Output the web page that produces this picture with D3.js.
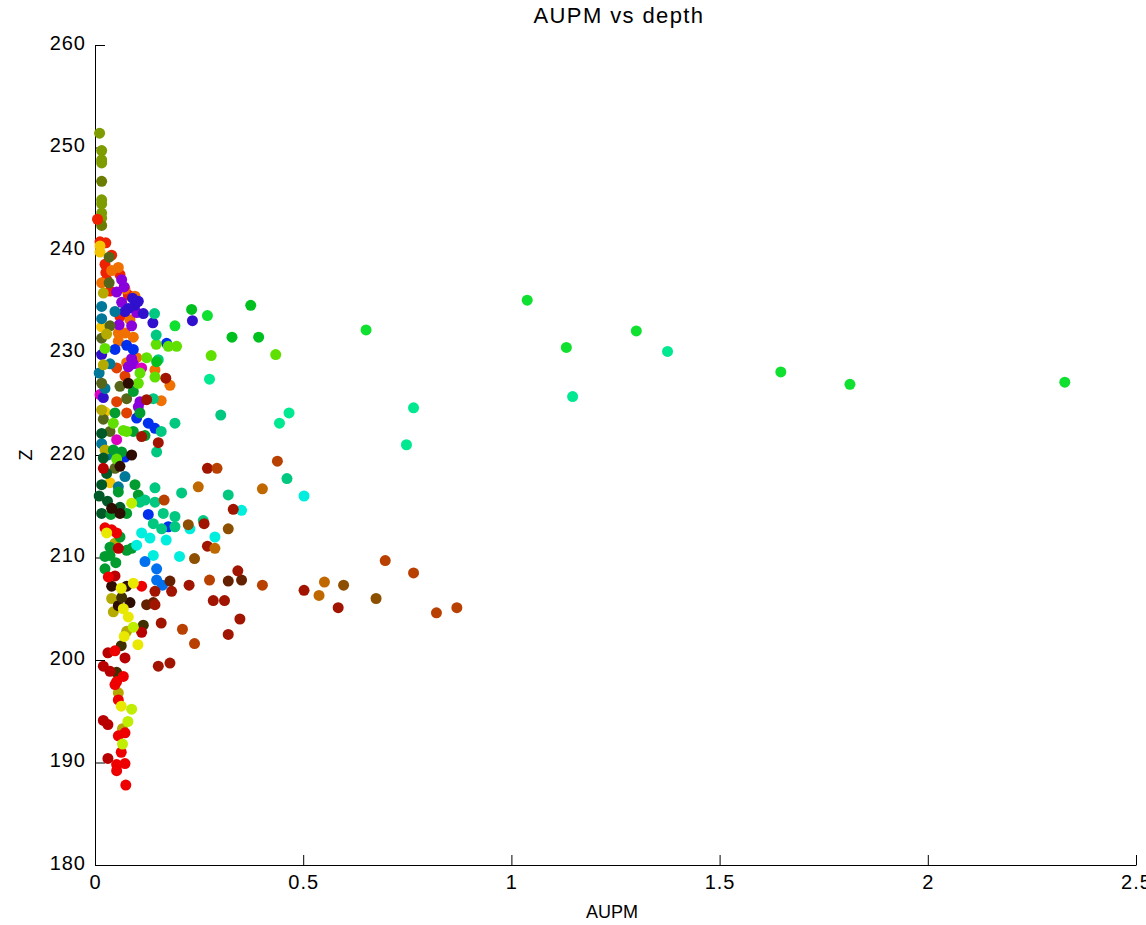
<!DOCTYPE html>
<html>
<head>
<meta charset="utf-8">
<script src="https://cdn.jsdelivr.net/npm/d3@7"></script>
<style>
  body { margin: 0; background: #fff; }
  svg { font-family: "Liberation Sans", Arial, sans-serif; }
</style>
</head>
<body>
<script>
// AUPM readings against depth Z, one array per colour group
var olive = [[0.011,251.4],[0.016,249.7],[0.016,248.8],[0.016,248.5],[0.016,244.9],[0.016,244.5],[0.016,243.6],[0.016,243.1]];
var darkOlive = [[0.016,246.7],[0.016,242.4]];
var scarlet = [[0.006,243.0],[0.012,240.8],[0.026,240.7],[0.024,238.6],[0.026,237.8],[0.060,237.6],[0.028,237.1],[0.080,235.6],[0.060,233.5],[0.040,239.5],[0.036,236.0]];
var red = [[0.024,212.9],[0.040,212.7],[0.052,212.4],[0.032,208.1],[0.112,207.2],[0.048,200.9],[0.068,198.4],[0.052,197.9],[0.048,197.6],[0.056,196.1],[0.072,192.9],[0.056,192.6],[0.063,191.0],[0.052,189.8],[0.072,189.9],[0.052,189.2],[0.074,187.8]];
var darkRed = [[0.020,218.7],[0.056,210.9],[0.048,208.2],[0.112,202.7],[0.031,200.7],[0.072,200.2],[0.020,199.4],[0.036,198.9],[0.020,194.1],[0.031,193.7],[0.031,190.4]];
var gold = [[0.012,240.4],[0.012,239.8],[0.016,232.5],[0.024,224.2],[0.036,217.3]];
var lemon = [[0.028,212.4],[0.063,207.0],[0.092,207.5],[0.068,205.0],[0.080,204.2],[0.070,202.3],[0.103,201.5],[0.063,195.5]];
var yellowOlive = [[0.020,235.8],[0.028,231.8],[0.020,228.8],[0.016,224.4],[0.024,220.5],[0.048,211.4],[0.040,206.0],[0.044,204.7],[0.076,202.8],[0.056,196.8],[0.066,193.3]];
var limeYellow = [[0.092,203.2],[0.088,195.2],[0.079,194.0],[0.066,191.8],[0.088,215.3]];
var orange = [[0.056,238.3],[0.016,236.8],[0.096,235.5],[0.084,233.2],[0.056,231.9],[0.072,231.9],[0.092,231.5],[0.056,231.1],[0.076,229.0],[0.144,228.3],[0.159,225.3],[0.180,226.8],[0.040,238.0],[0.072,236.2],[0.100,229.5]];
var orangeRed = [[0.052,228.5],[0.072,227.7],[0.052,225.2],[0.076,224.1]];
var purple = [[0.064,237.1],[0.052,235.9],[0.064,234.9],[0.058,232.7],[0.088,232.6],[0.080,228.6],[0.092,228.9],[0.108,225.2],[0.104,224.7],[0.088,229.4],[0.100,233.9],[0.070,236.4]];
var magenta = [[0.112,228.5],[0.012,225.9],[0.052,221.5]];
var indigo = [[0.096,234.6],[0.116,233.8],[0.139,232.9],[0.234,233.1],[0.080,234.3],[0.072,234.0],[0.020,225.6],[0.016,229.8],[0.104,235.0],[0.090,235.3]];
var blue = [[0.048,230.3],[0.076,230.7],[0.092,230.3],[0.172,230.9],[0.100,223.6],[0.128,223.1],[0.144,222.6],[0.072,219.8],[0.128,214.2],[0.176,213.0]];
var azure = [[0.120,209.6],[0.148,208.9],[0.148,207.8],[0.162,207.3]];
var teal = [[0.016,234.5],[0.048,234.0],[0.016,233.3],[0.036,228.9],[0.024,226.5],[0.016,221.1],[0.056,216.9],[0.072,217.9],[0.030,220.0],[0.010,228.0]];
var oliveGreen = [[0.034,239.3],[0.034,236.8],[0.036,232.6],[0.016,231.4],[0.016,227.0],[0.060,226.7],[0.076,225.5],[0.036,222.3],[0.020,223.5],[0.048,218.7]];
var darkGreen = [[0.020,219.7],[0.028,218.2],[0.016,217.1],[0.016,214.3],[0.060,214.9],[0.016,222.1],[0.030,215.5],[0.010,216.0]];
var green = [[0.048,224.1],[0.044,220.5],[0.064,220.3],[0.108,224.1],[0.092,226.2],[0.096,217.1],[0.056,216.4],[0.104,216.1],[0.038,214.2],[0.076,214.3],[0.036,211.0],[0.076,210.7],[0.088,210.9],[0.024,210.1],[0.036,210.2],[0.024,208.9],[0.120,221.9],[0.092,222.3],[0.060,212.0],[0.050,209.5]];
var lime = [[0.147,230.8],[0.176,230.6],[0.196,230.6],[0.124,229.5],[0.108,228.0],[0.104,227.0],[0.144,227.6],[0.024,230.4],[0.044,223.1],[0.068,222.4],[0.076,222.3],[0.052,219.6],[0.279,229.7],[0.434,229.8]];
var jade = [[0.143,233.8],[0.147,231.7],[0.152,229.3],[0.140,225.5],[0.159,222.3],[0.192,223.1],[0.148,220.3],[0.144,216.8],[0.120,215.6],[0.144,215.4],[0.108,215.4],[0.164,214.3],[0.192,214.0],[0.140,213.3],[0.160,212.8],[0.192,213.0],[0.208,216.3],[0.320,216.1],[0.461,217.7],[0.302,223.9],[0.260,213.6]];
var mint = [[0.466,224.1],[0.443,223.1],[0.275,227.4],[0.765,224.6],[0.748,221.0],[1.147,225.7],[1.375,230.1]];
var cyan = [[0.352,214.6],[0.288,212.0],[0.502,216.0],[0.112,212.4],[0.132,211.9],[0.100,211.2],[0.171,211.7],[0.140,210.2],[0.203,210.1],[0.228,212.8]];
var brightGreen = [[0.651,232.2],[1.038,235.1],[1.300,232.1],[1.132,230.5],[1.647,228.1],[1.813,226.9],[2.329,227.1],[0.270,233.6],[0.192,232.6]];
var forestGreen = [[0.374,234.6],[0.232,234.2],[0.329,231.5],[0.393,231.5],[0.148,229.1]];
var rust = [[0.438,219.4],[0.293,218.7],[0.697,209.7],[0.765,208.5],[0.275,207.8],[0.402,207.3],[0.820,204.6],[0.869,205.1],[0.166,215.6],[0.239,201.6],[0.210,203.0]];
var ochre = [[0.402,216.7],[0.248,216.9],[0.288,210.9],[0.551,207.6],[0.538,206.3]];
var umber = [[0.320,212.8],[0.224,213.2],[0.239,209.9],[0.597,207.3],[0.675,206.0]];
var maroon = [[0.270,218.7],[0.332,214.7],[0.262,213.3],[0.270,211.1],[0.343,208.7],[0.284,205.8],[0.311,205.8],[0.348,204.0],[0.320,202.5],[0.584,205.1],[0.502,206.8],[0.170,227.5],[0.124,225.4],[0.112,221.8],[0.152,221.2],[0.226,207.3],[0.184,206.7],[0.144,206.7],[0.144,205.4],[0.159,203.6],[0.152,199.4],[0.180,199.7]];
var darkBrown = [[0.320,207.7],[0.352,207.8],[0.180,207.7],[0.124,205.4],[0.140,205.6]];
var nearBlack = [[0.060,214.3],[0.040,214.8],[0.088,220.0],[0.060,218.9],[0.040,207.2],[0.076,207.2],[0.084,205.6],[0.056,205.3],[0.080,227.0]];
var darkUmber = [[0.116,203.4],[0.064,206.1],[0.063,201.4],[0.052,198.8]];

var xTicks = [0, 0.5, 1, 1.5, 2, 2.5];
var yTicks = [180, 190, 200, 210, 220, 230, 240, 250, 260];

// drawing order + colour of each group
var groups = [
  {pts: olive, color: "#7e9c00"}, {pts: darkOlive, color: "#6c7c00"},
  {pts: scarlet, color: "#ee2200"}, {pts: gold, color: "#f5c400"},
  {pts: orange, color: "#f07000"}, {pts: orangeRed, color: "#e04000"},
  {pts: purple, color: "#8a00dd"}, {pts: magenta, color: "#dd00c0"},
  {pts: indigo, color: "#3010cc"}, {pts: blue, color: "#0030ee"},
  {pts: teal, color: "#00789a"}, {pts: oliveGreen, color: "#55661a"},
  {pts: yellowOlive, color: "#b5aa00"}, {pts: darkGreen, color: "#005a28"},
  {pts: green, color: "#009c30"}, {pts: lime, color: "#60e000"},
  {pts: jade, color: "#00c880"}, {pts: mint, color: "#00e890"},
  {pts: cyan, color: "#00eedd"}, {pts: azure, color: "#0070ee"},
  {pts: brightGreen, color: "#10e030"}, {pts: forestGreen, color: "#00c020"},
  {pts: nearBlack, color: "#2e0c00"}, {pts: darkUmber, color: "#403000"},
  {pts: darkBrown, color: "#652000"}, {pts: maroon, color: "#a01400"},
  {pts: rust, color: "#b84000"}, {pts: ochre, color: "#c06800"},
  {pts: umber, color: "#8c5000"}, {pts: darkRed, color: "#b80000"},
  {pts: red, color: "#ee0000"}, {pts: lemon, color: "#e8e800"},
  {pts: limeYellow, color: "#c0ee00"}
];

var svgWidth = 1146, svgHeight = 925;

var svg = d3.select("body").append("svg")
  .attr("width", svgWidth)
  .attr("height", svgHeight);

var x = d3.scaleLinear().domain([0, 2.5]).range([95, 1136]);
var y = d3.scaleLinear().domain([180, 260]).range([865, 45]);

// axes, MATLAB style: ticks pointing inwards, no box
var xAxis = svg.append("g")
  .attr("transform", "translate(0,865)")
  .call(d3.axisBottom(x).tickValues(xTicks).tickFormat(d3.format("")).tickSizeInner(-10).tickSizeOuter(0).tickPadding(10));

var yAxis = svg.append("g")
  .attr("transform", "translate(95,0)")
  .call(d3.axisLeft(y).tickValues(yTicks).tickSizeInner(-10).tickSizeOuter(0).tickPadding(9));

[xAxis, yAxis].forEach(function(g) {
  g.selectAll("path, line").attr("stroke", "#000").attr("stroke-width", 1);
  g.selectAll("text")
    .attr("fill", "#000")
    .style("font-family", "'Liberation Sans', Arial, sans-serif")
    .style("font-size", "20px")
    .style("letter-spacing", "1px");
});
yAxis.selectAll("text").attr("dy", "0.2em");

// points
groups.forEach(function(grp) {
  svg.append("g").selectAll("circle")
    .data(grp.pts)
    .enter()
    .append("circle")
    .attr("cx", d => x(d[0]))
    .attr("cy", d => y(d[1]))
    .attr("r", 5.5)
    .attr("fill", grp.color);
});

// labels
svg.append("text")
  .attr("x", 619)
  .attr("y", 23)
  .attr("text-anchor", "middle")
  .style("font-size", "22px")
  .style("letter-spacing", "1.4px")
  .text("AUPM vs depth");

svg.append("text")
  .attr("x", 612)
  .attr("y", 918)
  .attr("text-anchor", "middle")
  .style("font-size", "18px")
  .text("AUPM");

svg.append("text")
  .attr("transform", "translate(32,455) rotate(-90)")
  .attr("text-anchor", "middle")
  .style("font-size", "18px")
  .text("Z");
</script>
</body>
</html>
